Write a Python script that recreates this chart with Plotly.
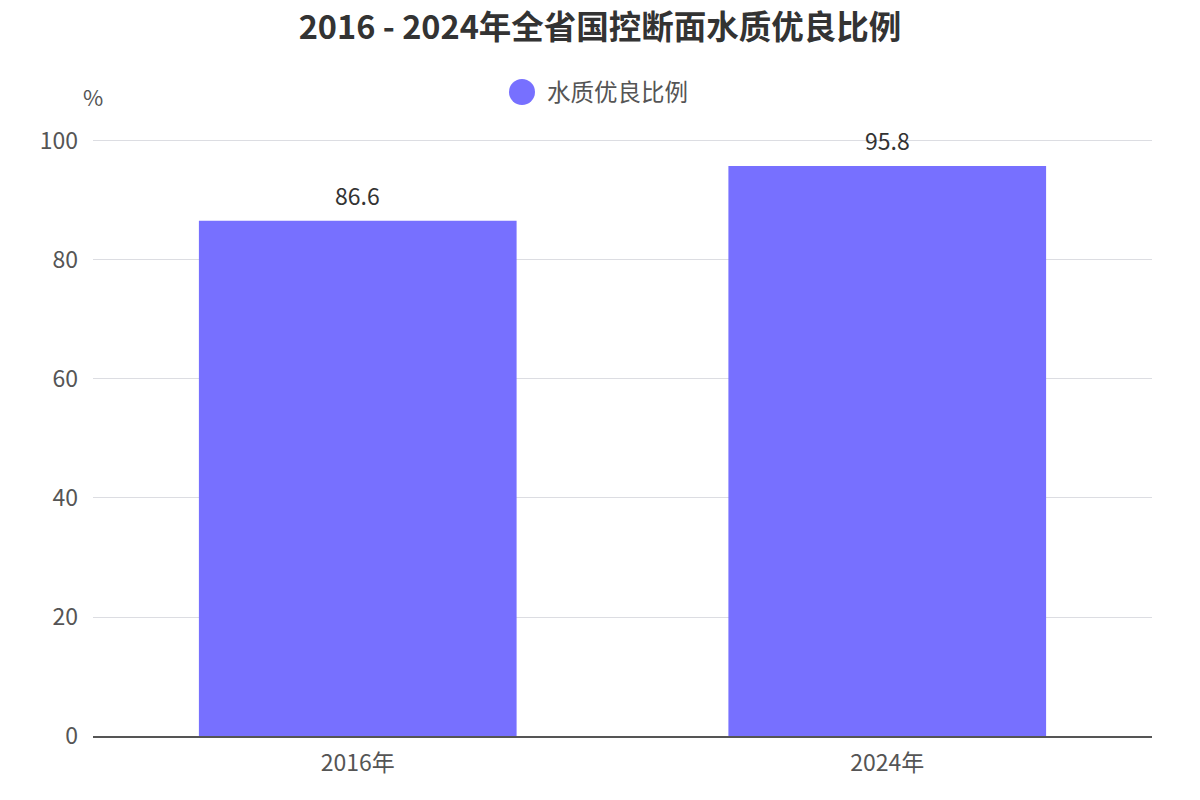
import plotly.graph_objects as go

categories = ["2016年", "2024年"]
values = [86.6, 95.8]
series_name = "水质优良比例"
title_text = "2016 - 2024年全省国控断面水质优良比例"
y_ticks = [0, 20, 40, 60, 80, 100]

FONT = "Noto Sans CJK SC, Noto Sans, sans-serif"
BAR = "#7770FF"
Y_MAX = 100.5
PX_PER_UNIT = 595.0 / 100
PLOT_H = PX_PER_UNIT * Y_MAX
TOP = 736 - PLOT_H

fig = go.Figure()
fig.add_trace(go.Bar(
    x=categories, y=values, marker_color=BAR, marker_line_width=0, width=0.6,
    showlegend=False, name=series_name, hoverinfo="x+y",
))
for c, v in zip(categories, values):
    fig.add_annotation(x=c, y=v, text=f"{v:.1f}", showarrow=False, yanchor="middle", yshift=26,
                       font=dict(size=23, color="#333333", family=FONT))

fig.update_layout(
    width=1200, height=800,
    paper_bgcolor="white", plot_bgcolor="white",
    margin=dict(l=93, r=48, t=TOP, b=64),
    title=dict(text=f"<b>{title_text}</b>", x=0.5, xanchor="center", y=0.965, yanchor="middle",
               font=dict(size=32.5, color="#333333", family=FONT)),
    showlegend=False,
    font=dict(family=FONT),
)
# legend (circle + label)
fig.add_shape(type="circle", xref="paper", yref="paper",
              x0=(509 - 93) / 1059, x1=(535 - 93) / 1059,
              y0=1 + (TOP - 105) / PLOT_H, y1=1 + (TOP - 79) / PLOT_H,
              fillcolor=BAR, line_width=0)
fig.add_annotation(text=series_name, xref="paper", yref="paper", x=(545 - 93) / 1059,
                   y=1 + (TOP - 91) / PLOT_H, xanchor="left", yanchor="middle", showarrow=False,
                   font=dict(size=23.5, color="#555555", family=FONT))

fig.update_xaxes(showline=True, linecolor="#555555", linewidth=2, showgrid=False,
                 tickfont=dict(size=23, color="#555555", family=FONT), ticks="", ticklabelstandoff=5)
fig.update_yaxes(range=[0, Y_MAX], tickvals=y_ticks, showgrid=True, gridcolor="#dcdde2", gridwidth=1,
                 zeroline=False, showline=False, ticks="",
                 tickfont=dict(size=23, color="#555555", family=FONT), ticklabelstandoff=14)
fig.add_annotation(text="%", xref="paper", yref="paper", x=0, y=1 + (TOP - 96) / PLOT_H, xanchor="center",
                   yanchor="middle", showarrow=False, font=dict(size=22, color="#555555", family=FONT))

fig.write_html("out.html")
